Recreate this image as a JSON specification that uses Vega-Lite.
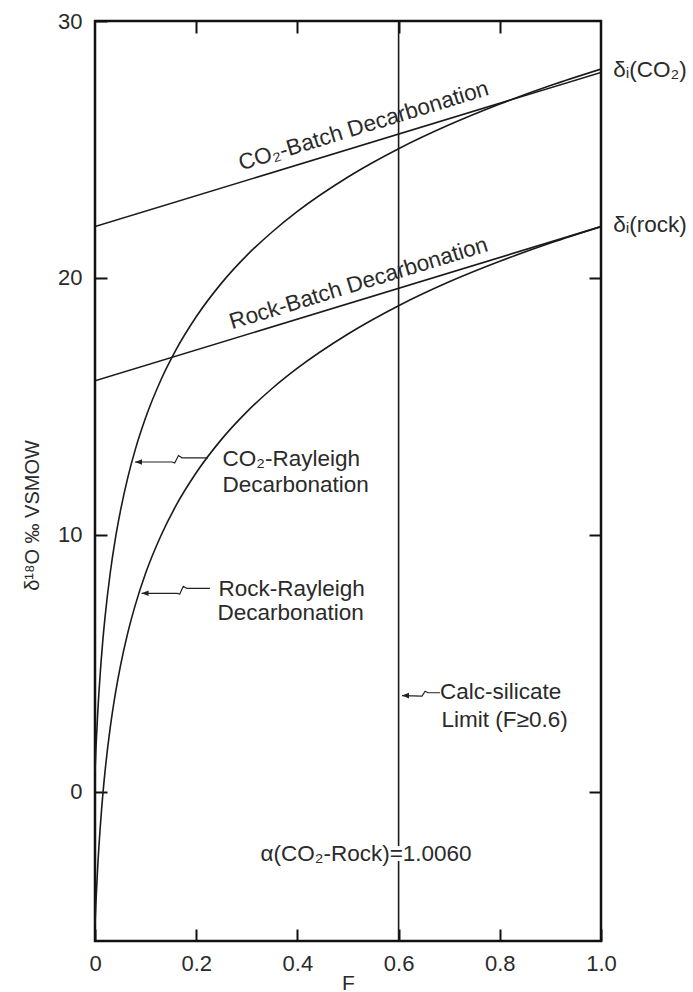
{
  "$schema": "https://vega.github.io/schema/vega-lite/v6.json",
  "width": 506,
  "height": 920,
  "autosize": {"type": "none"},
  "padding": {"left": 95, "top": 21, "right": 92, "bottom": 51},
  "background": "white",
  "config": {
    "view": {"stroke": "#111", "strokeWidth": 2.5},
    "font": "Liberation Sans",
    "axis": {
      "domain": false, "grid": false, "tickColor": "#111", "tickWidth": 2,
      "labelColor": "#2a2a2a", "labelFont": "Liberation Sans", "labelFontSize": 22, "labelFlush": false,
      "titleFont": "Liberation Sans", "titleColor": "#2a2a2a", "titleFontWeight": "normal", "titleFontSize": 20
    }
  },
  "datasets": {
    "rayleigh": [
      {"series": "CO2", "F": 0, "d": 0.78},
      {"series": "CO2", "F": 0.002, "d": 1.73},
      {"series": "CO2", "F": 0.005, "d": 2.93},
      {"series": "CO2", "F": 0.01, "d": 4.52},
      {"series": "CO2", "F": 0.015, "d": 5.79},
      {"series": "CO2", "F": 0.02, "d": 6.83},
      {"series": "CO2", "F": 0.03, "d": 8.51},
      {"series": "CO2", "F": 0.04, "d": 9.83},
      {"series": "CO2", "F": 0.05, "d": 10.91},
      {"series": "CO2", "F": 0.065, "d": 12.25},
      {"series": "CO2", "F": 0.08, "d": 13.35},
      {"series": "CO2", "F": 0.1, "d": 14.56},
      {"series": "CO2", "F": 0.13, "d": 16.02},
      {"series": "CO2", "F": 0.16, "d": 17.2},
      {"series": "CO2", "F": 0.2, "d": 18.49},
      {"series": "CO2", "F": 0.25, "d": 19.8},
      {"series": "CO2", "F": 0.3, "d": 20.88},
      {"series": "CO2", "F": 0.35, "d": 21.79},
      {"series": "CO2", "F": 0.4, "d": 22.59},
      {"series": "CO2", "F": 0.5, "d": 23.93},
      {"series": "CO2", "F": 0.6, "d": 25.03},
      {"series": "CO2", "F": 0.7, "d": 25.96},
      {"series": "CO2", "F": 0.8, "d": 26.77},
      {"series": "CO2", "F": 0.9, "d": 27.49},
      {"series": "CO2", "F": 1.0, "d": 28.13},
      {"series": "Rock", "F": 0, "d": -5.19},
      {"series": "Rock", "F": 0.002, "d": -4.24},
      {"series": "Rock", "F": 0.005, "d": -3.05},
      {"series": "Rock", "F": 0.01, "d": -1.47},
      {"series": "Rock", "F": 0.015, "d": -0.21},
      {"series": "Rock", "F": 0.02, "d": 0.83},
      {"series": "Rock", "F": 0.03, "d": 2.49},
      {"series": "Rock", "F": 0.04, "d": 3.8},
      {"series": "Rock", "F": 0.05, "d": 4.88},
      {"series": "Rock", "F": 0.065, "d": 6.21},
      {"series": "Rock", "F": 0.08, "d": 7.3},
      {"series": "Rock", "F": 0.1, "d": 8.51},
      {"series": "Rock", "F": 0.13, "d": 9.96},
      {"series": "Rock", "F": 0.16, "d": 11.14},
      {"series": "Rock", "F": 0.2, "d": 12.42},
      {"series": "Rock", "F": 0.25, "d": 13.72},
      {"series": "Rock", "F": 0.3, "d": 14.79},
      {"series": "Rock", "F": 0.35, "d": 15.7},
      {"series": "Rock", "F": 0.4, "d": 16.49},
      {"series": "Rock", "F": 0.5, "d": 17.82},
      {"series": "Rock", "F": 0.6, "d": 18.92},
      {"series": "Rock", "F": 0.7, "d": 19.85},
      {"series": "Rock", "F": 0.8, "d": 20.65},
      {"series": "Rock", "F": 0.9, "d": 21.36},
      {"series": "Rock", "F": 1.0, "d": 22.0}
    ],
    "batch": [
      {"series": "CO2-Batch", "F": 0, "d": 22},
      {"series": "CO2-Batch", "F": 1, "d": 28},
      {"series": "Rock-Batch", "F": 0, "d": 16},
      {"series": "Rock-Batch", "F": 1, "d": 22}
    ],
    "limit": [{"F": 0.6}],
    "arrows": [
      {"arrow": "co2", "i": 1, "F": 0.2233, "d": 13.0},
      {"arrow": "co2", "i": 2, "F": 0.1719, "d": 13.0},
      {"arrow": "co2", "i": 3, "F": 0.165, "d": 13.09},
      {"arrow": "co2", "i": 4, "F": 0.1575, "d": 12.8},
      {"arrow": "co2", "i": 5, "F": 0.153, "d": 12.84},
      {"arrow": "co2", "i": 6, "F": 0.079, "d": 12.84},
      {"arrow": "rock", "i": 1, "F": 0.2273, "d": 7.92},
      {"arrow": "rock", "i": 2, "F": 0.1818, "d": 7.92},
      {"arrow": "rock", "i": 3, "F": 0.1745, "d": 8.0},
      {"arrow": "rock", "i": 4, "F": 0.1675, "d": 7.7},
      {"arrow": "rock", "i": 5, "F": 0.162, "d": 7.73},
      {"arrow": "rock", "i": 6, "F": 0.092, "d": 7.73},
      {"arrow": "calc", "i": 1, "F": 0.6818, "d": 3.86},
      {"arrow": "calc", "i": 2, "F": 0.6581, "d": 3.86},
      {"arrow": "calc", "i": 3, "F": 0.6525, "d": 3.92},
      {"arrow": "calc", "i": 4, "F": 0.6462, "d": 3.73},
      {"arrow": "calc", "i": 5, "F": 0.6067, "d": 3.75}
    ],
    "tips": [
      {"F": 0.079, "d": 12.84},
      {"F": 0.092, "d": 7.73},
      {"F": 0.6067, "d": 3.75}
    ],
    "batchLabels": [
      {"t": "CO₂-Batch Decarbonation", "F": 0.535, "d": 25.66},
      {"t": "Rock-Batch Decarbonation", "F": 0.525, "d": 19.53}
    ],
    "notes": [
      {"t": "CO₂-Rayleigh", "F": 0.252, "d": 12.7},
      {"t": "Decarbonation", "F": 0.252, "d": 11.68},
      {"t": "Rock-Rayleigh", "F": 0.244, "d": 7.63},
      {"t": "Decarbonation", "F": 0.242, "d": 6.69},
      {"t": "Calc-silicate", "F": 0.682, "d": 3.62},
      {"t": "Limit (F≥0.6)", "F": 0.685, "d": 2.53},
      {"t": "δᵢ(CO₂)", "F": 1.0243, "d": 27.81},
      {"t": "δᵢ(rock)", "F": 1.0243, "d": 21.78}
    ],
    "alpha": [
      {"t": "α(CO₂-Rock)=1.0060", "F": 0.5356, "d": -2.68}
    ]
  },
  "resolve": {"axis": {"x": "independent", "y": "independent"}},
  "layer": [
    {
      "data": {"name": "rayleigh"},
      "mark": {"type": "line", "clip": true, "color": "#1a1a1a", "strokeWidth": 1.6, "interpolate": "monotone"},
      "encoding": {
        "x": {"field": "F", "type": "quantitative", "scale": {"domain": [0, 1], "nice": false, "zero": false},
          "axis": {"orient": "bottom", "values": [0, 0.2, 0.4, 0.6, 0.8, 1], "labelExpr": "datum.value == 0 ? '0' : format(datum.value, '.1f')",
            "tickSize": -12, "labelPadding": 24, "title": "F", "titleY": 31, "titleBaseline": "top", "titleFontSize": 21}},
        "y": {"field": "d", "type": "quantitative", "scale": {"domain": [-5.8, 30], "nice": false, "zero": false},
          "axis": {"orient": "left", "values": [0, 10, 20, 30], "tickSize": -12, "labelPadding": 25,
            "title": "δ¹⁸O ‰ VSMOW", "titleX": -63, "titleY": 494, "titleAngle": -90, "titleAlign": "center", "titleBaseline": "middle"}},
        "detail": {"field": "series"}
      }
    },
    {
      "data": {"name": "limit"},
      "mark": {"type": "rule", "color": "#1a1a1a", "strokeWidth": 1.6},
      "encoding": {
        "x": {"field": "F", "type": "quantitative", "scale": {"domain": [0, 1], "nice": false, "zero": false},
          "axis": {"orient": "top", "values": [0.2, 0.4, 0.6, 0.8], "labels": false, "tickSize": -12, "title": null}}
      }
    },
    {
      "data": {"name": "batch"},
      "mark": {"type": "line", "clip": true, "color": "#1a1a1a", "strokeWidth": 1.6},
      "encoding": {
        "x": {"field": "F", "type": "quantitative", "scale": {"domain": [0, 1], "nice": false, "zero": false}, "axis": null},
        "y": {"field": "d", "type": "quantitative", "scale": {"domain": [-5.8, 30], "nice": false, "zero": false},
          "axis": {"orient": "right", "values": [0, 10, 20], "labels": false, "tickSize": -12, "title": null}},
        "detail": {"field": "series"}
      }
    },
    {
      "data": {"name": "arrows"},
      "mark": {"type": "line", "color": "#222", "strokeWidth": 1.2},
      "encoding": {
        "x": {"field": "F", "type": "quantitative", "scale": {"domain": [0, 1], "nice": false, "zero": false}, "axis": null},
        "y": {"field": "d", "type": "quantitative", "scale": {"domain": [-5.8, 30], "nice": false, "zero": false}, "axis": null},
        "detail": {"field": "arrow"},
        "order": {"field": "i"}
      }
    },
    {
      "data": {"name": "tips"},
      "mark": {"type": "point", "shape": "M0,0L2,-0.8L2,0.8Z", "filled": true, "color": "#222", "size": 49, "opacity": 1},
      "encoding": {
        "x": {"field": "F", "type": "quantitative", "scale": {"domain": [0, 1], "nice": false, "zero": false}, "axis": null},
        "y": {"field": "d", "type": "quantitative", "scale": {"domain": [-5.8, 30], "nice": false, "zero": false}, "axis": null}
      }
    },
    {
      "data": {"name": "batchLabels"},
      "mark": {"type": "text", "angle": -17, "align": "center", "baseline": "alphabetic", "fontSize": 22.5, "color": "#2a2a2a", "font": "Liberation Sans"},
      "encoding": {
        "x": {"field": "F", "type": "quantitative", "scale": {"domain": [0, 1], "nice": false, "zero": false}, "axis": null},
        "y": {"field": "d", "type": "quantitative", "scale": {"domain": [-5.8, 30], "nice": false, "zero": false}, "axis": null},
        "text": {"field": "t"}
      }
    },
    {
      "data": {"name": "notes"},
      "mark": {"type": "text", "align": "left", "baseline": "alphabetic", "fontSize": 22.5, "color": "#2a2a2a", "font": "Liberation Sans"},
      "encoding": {
        "x": {"field": "F", "type": "quantitative", "scale": {"domain": [0, 1], "nice": false, "zero": false}, "axis": null},
        "y": {"field": "d", "type": "quantitative", "scale": {"domain": [-5.8, 30], "nice": false, "zero": false}, "axis": null},
        "text": {"field": "t"}
      }
    },
    {
      "data": {"name": "alpha"},
      "mark": {"type": "text", "align": "center", "baseline": "alphabetic", "fontSize": 22.5, "color": "white", "stroke": "white", "strokeWidth": 8, "font": "Liberation Sans"},
      "encoding": {
        "x": {"field": "F", "type": "quantitative", "scale": {"domain": [0, 1], "nice": false, "zero": false}, "axis": null},
        "y": {"field": "d", "type": "quantitative", "scale": {"domain": [-5.8, 30], "nice": false, "zero": false}, "axis": null},
        "text": {"field": "t"}
      }
    },
    {
      "data": {"name": "alpha"},
      "mark": {"type": "text", "align": "center", "baseline": "alphabetic", "fontSize": 22.5, "color": "#2a2a2a", "font": "Liberation Sans"},
      "encoding": {
        "x": {"field": "F", "type": "quantitative", "scale": {"domain": [0, 1], "nice": false, "zero": false}, "axis": null},
        "y": {"field": "d", "type": "quantitative", "scale": {"domain": [-5.8, 30], "nice": false, "zero": false}, "axis": null},
        "text": {"field": "t"}
      }
    }
  ]
}
